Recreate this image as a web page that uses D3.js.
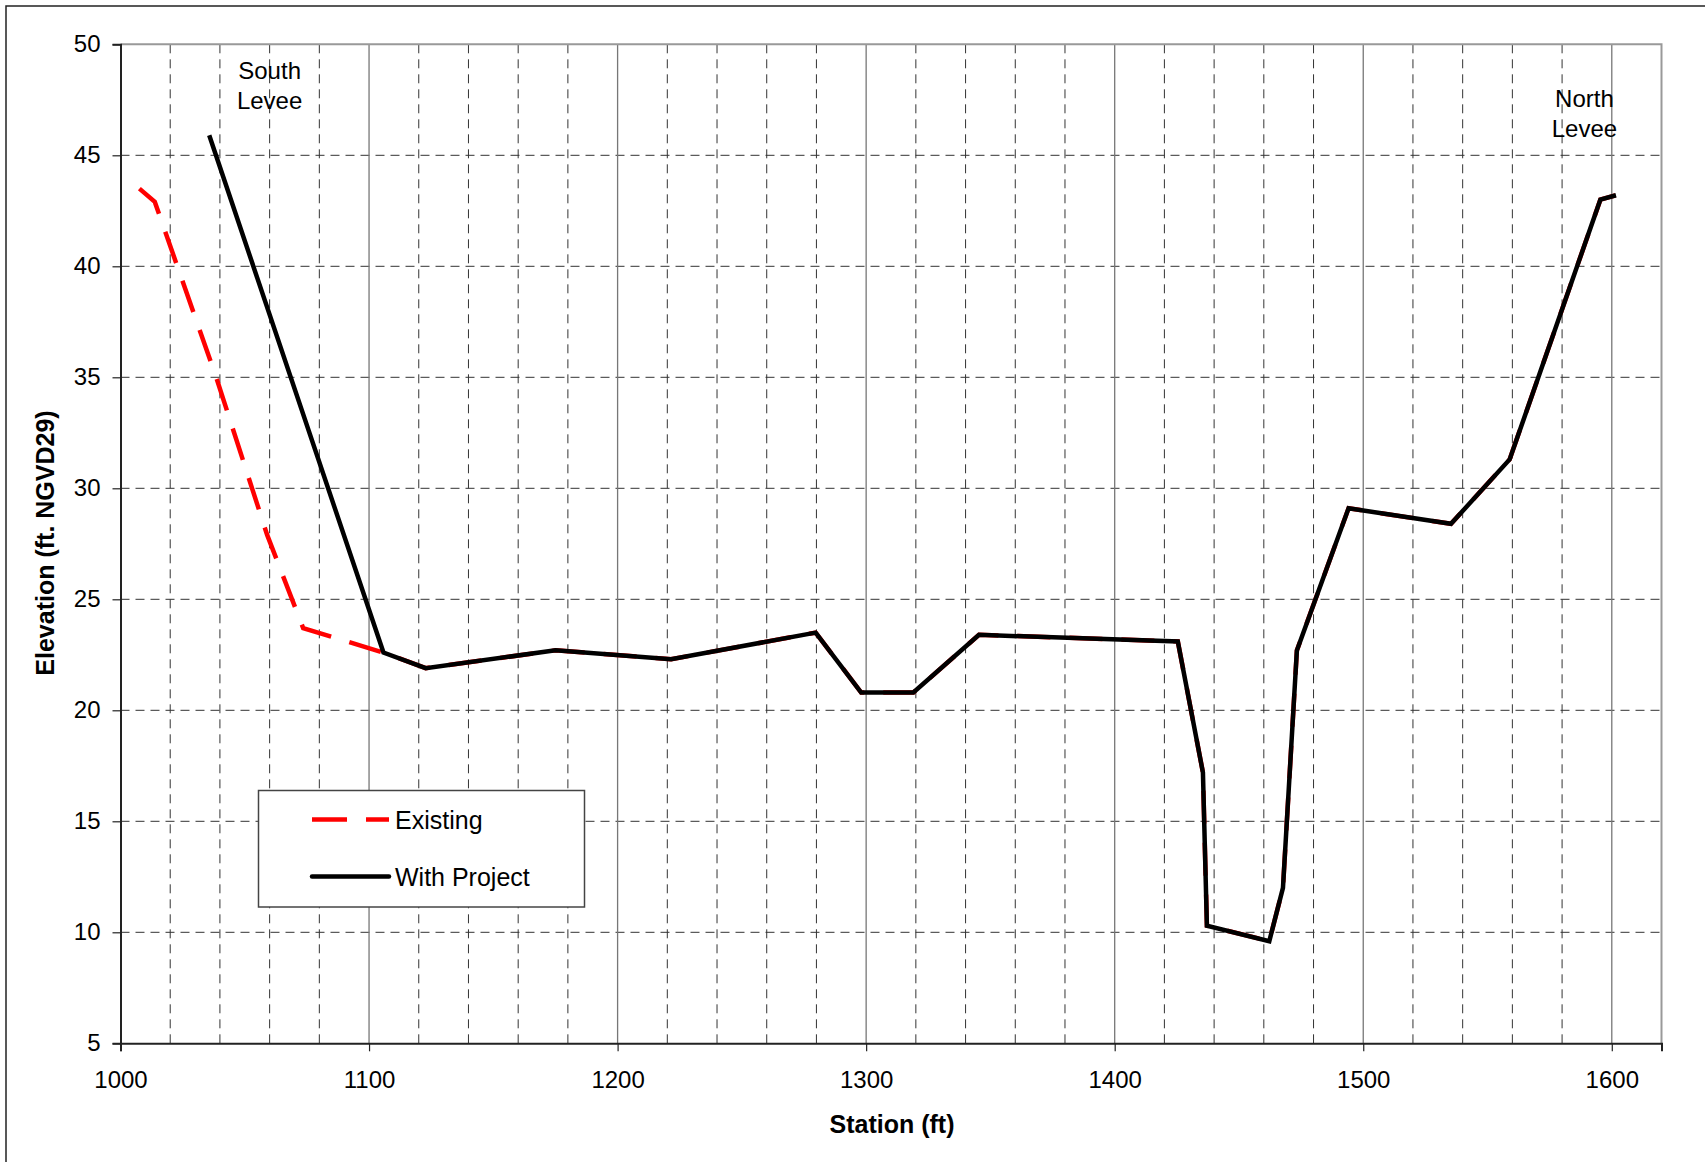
<!DOCTYPE html>
<html>
<head>
<meta charset="utf-8">
<script src="https://cdn.jsdelivr.net/npm/d3@7"></script>
<style>
  html, body { margin: 0; padding: 0; background: #fff; }
  svg { display: block; font-family: "Liberation Sans", Arial, sans-serif; }
</style>
</head>
<body>
<svg id="chart" width="1705" height="1162"></svg>
<script>
// Cross-section profile: station (ft) vs. elevation (ft NGVD29)
const existingStation = [1007.6, 1013.8, 1038.5, 1059.0, 1073.5, 1105.8, 1122.8, 1175.0, 1221.5, 1279.7, 1298.0, 1319.0, 1345.4, 1425.4, 1435.5, 1437.1, 1462.2, 1467.7, 1473.3, 1494.1, 1535.3, 1558.9, 1595.4, 1601.7];
const existingElev    = [43.5, 42.9, 35.0, 27.9, 23.7, 22.6, 21.9, 22.7, 22.3, 23.5, 20.8, 20.8, 23.4, 23.1, 17.2, 10.3, 9.6, 12.0, 22.7, 29.1, 28.4, 31.3, 43.0, 43.2];

const projectStation  = [1035.7, 1105.8, 1122.8, 1175.0, 1221.5, 1279.7, 1298.0, 1319.0, 1345.4, 1425.4, 1435.5, 1437.1, 1462.2, 1467.7, 1473.3, 1494.1, 1535.3, 1558.9, 1595.4, 1601.7];
const projectElev     = [45.9, 22.6, 21.9, 22.7, 22.3, 23.5, 20.8, 20.8, 23.4, 23.1, 17.2, 10.3, 9.6, 12.0, 22.7, 29.1, 28.4, 31.3, 43.0, 43.2];

const seriesNames = ["Existing", "With Project"];
const xTickValues = [1000, 1100, 1200, 1300, 1400, 1500, 1600];
const yTickValues = [5, 10, 15, 20, 25, 30, 35, 40, 45, 50];
const annotations = [
  { cx: 1060, lines: ["South", "Levee"], baseline: 79 },
  { cx: 1589, lines: ["North", "Levee"], baseline: 107 }
];

const svg = d3.select("#chart");

// outer frame
svg.append("rect")
  .attr("x", 6).attr("y", 6).attr("width", 1720).attr("height", 1180)
  .attr("fill", "none").attr("stroke", "#222").attr("stroke-width", 1.5);

const plotL = 120.5, plotR = 1661.5, plotT = 44.3, plotB = 1043.3;
const x = d3.scaleLinear().domain([1000, 1620]).range([plotL, plotR]);
const y = d3.scaleLinear().domain([5, 50]).range([plotB, plotT]);

const grid = svg.append("g");

// horizontal dashed gridlines
grid.selectAll("line.h")
  .data(yTickValues.filter(v => v > 5 && v < 50))
  .join("line")
  .attr("x1", plotL).attr("x2", plotR)
  .attr("y1", d => y(d)).attr("y2", d => y(d))
  .attr("stroke", "#333").attr("stroke-width", 1)
  .attr("stroke-dasharray", "9,6");

// vertical minor dashed gridlines every 20 ft
const minor = d3.range(1020, 1620, 20).filter(v => v % 100 !== 0);
grid.selectAll("line.vm")
  .data(minor)
  .join("line")
  .attr("x1", d => x(d)).attr("x2", d => x(d))
  .attr("y1", plotT).attr("y2", plotB)
  .attr("stroke", "#333").attr("stroke-width", 1)
  .attr("stroke-dasharray", "9,6");

// vertical major solid gridlines every 100 ft
grid.selectAll("line.vM")
  .data(xTickValues.filter(v => v > 1000))
  .join("line")
  .attr("x1", d => x(d)).attr("x2", d => x(d))
  .attr("y1", plotT).attr("y2", plotB)
  .attr("stroke", "#777").attr("stroke-width", 1.3);

// plot frame: top and right in gray
svg.append("path")
  .attr("d", `M${plotL},${plotT}H${plotR}V${plotB}`)
  .attr("fill", "none").attr("stroke", "#999").attr("stroke-width", 2);

// axes
const xAxis = svg.append("g")
  .attr("transform", `translate(0,${plotB})`)
  .call(d3.axisBottom(x).tickValues(xTickValues).tickSize(8).tickPadding(20).tickFormat(d3.format("d")));
const yAxis = svg.append("g")
  .attr("transform", `translate(${plotL},0)`)
  .call(d3.axisLeft(y).tickValues(yTickValues).tickSize(8).tickPadding(12).tickFormat(d3.format("d")));

[xAxis, yAxis].forEach(a => {
  a.select(".domain").attr("stroke", "#222").attr("stroke-width", 2);
  a.selectAll(".tick line").attr("stroke", "#222").attr("stroke-width", 1.2);
  a.selectAll(".tick text").attr("fill", "#000").style("font-size", "24px")
    .style("font-family", "'Liberation Sans', Arial, sans-serif");
});

// axis titles
svg.append("text")
  .attr("x", 892).attr("y", 1133)
  .attr("text-anchor", "middle")
  .style("font-size", "25px").style("font-weight", "bold")
  .text("Station (ft)");
svg.append("text")
  .attr("transform", "translate(54,543) rotate(-90)")
  .attr("text-anchor", "middle")
  .style("font-size", "25px").style("font-weight", "bold")
  .text("Elevation (ft. NGVD29)");

// profile lines
const line = d3.line().x(d => x(d[0])).y(d => y(d[1]));
const existing = existingStation.map((s, i) => [s, existingElev[i]]);
const project = projectStation.map((s, i) => [s, projectElev[i]]);

svg.append("path")
  .datum(existing)
  .attr("d", line)
  .attr("fill", "none").attr("stroke", "#ff0000").attr("stroke-width", 4.5)
  .attr("stroke-dasharray", "33,19");

svg.append("path")
  .datum(project)
  .attr("d", line)
  .attr("fill", "none").attr("stroke", "#000").attr("stroke-width", 4.5)
  .attr("stroke-linejoin", "miter");

// levee labels
annotations.forEach(a => {
  const t = svg.append("text")
    .attr("text-anchor", "middle")
    .style("font-size", "24px");
  a.lines.forEach((ln, i) => {
    t.append("tspan")
      .attr("x", x(a.cx))
      .attr("y", a.baseline + i * 30)
      .text(ln);
  });
});

// legend
const lg = svg.append("g");
lg.append("rect")
  .attr("x", 258.5).attr("y", 790.5).attr("width", 326).attr("height", 116.5)
  .attr("fill", "#fff").attr("stroke", "#444").attr("stroke-width", 1.5);
const legendRows = [
  { name: seriesNames[0], color: "#ff0000", dash: "35,19", y: 819.5 },
  { name: seriesNames[1], color: "#000", dash: null, y: 876.5 }
];
legendRows.forEach(r => {
  lg.append("line")
    .attr("x1", 312).attr("x2", 389)
    .attr("y1", r.y).attr("y2", r.y)
    .attr("stroke", r.color).attr("stroke-width", 4.5)
    .attr("stroke-linecap", r.dash ? "butt" : "round")
    .attr("stroke-dasharray", r.dash);
  lg.append("text")
    .attr("x", 395).attr("y", r.y + 9)
    .style("font-size", "25px")
    .text(r.name);
});
</script>
</body>
</html>
